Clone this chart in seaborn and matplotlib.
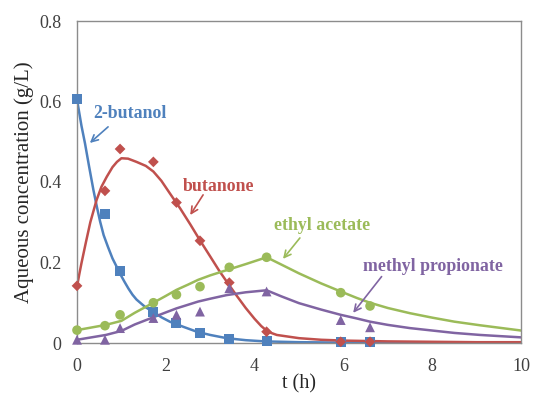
import numpy as np
import pandas as pd
import matplotlib
matplotlib.use("Agg")
import matplotlib.pyplot as plt
import seaborn as sns

# measured points
t_obs = [0, 0.63, 0.97, 1.72, 2.24, 2.77, 3.43, 4.27, 5.94, 6.6]
butanol_obs = [0.607, 0.32, 0.18, 0.078, 0.05, 0.025, 0.011, 0.006, 0.002, 0.002]
butanone_obs = [0.142, 0.378, 0.482, 0.45, 0.349, 0.254, 0.15, 0.028, 0.003, 0.003]
ethyl_obs = [0.032, 0.043, 0.07, 0.1, 0.12, 0.14, 0.188, 0.213, 0.125, 0.092]
methyl_obs = [0.008, 0.008, 0.037, 0.062, 0.07, 0.078, 0.136, 0.128, 0.057, 0.039]

# model curves
t_butanol = [0, 0.1, 0.18, 0.27, 0.37, 0.45, 0.52, 0.6, 0.7, 0.8, 0.9, 0.97, 1.07,
             1.16, 1.25, 1.34, 1.53, 1.72, 1.9, 2.09, 2.4, 2.7, 3.0, 3.37, 3.8,
             4.23, 5, 6, 7, 8, 10]
butanol_fit = [0.605, 0.54, 0.496, 0.44, 0.38, 0.337, 0.302, 0.268, 0.238, 0.21,
               0.188, 0.172, 0.152, 0.135, 0.12, 0.108, 0.09, 0.077, 0.064, 0.053,
               0.04, 0.028, 0.02, 0.012, 0.007, 0.004, 0.002, 0.001, 0.0, 0.0, 0.0]
t_butanone = [0, 0.05, 0.1, 0.2, 0.3, 0.44, 0.55, 0.67, 0.8, 0.9, 1.0, 1.15, 1.34,
              1.55, 1.72, 1.9, 2.09, 2.32, 2.55, 2.77, 3.0, 3.2, 3.4, 3.6, 3.8, 4.0,
              4.15, 4.3, 4.5, 5, 5.5, 6, 7, 8, 9, 10]
butanone_fit = [0.14, 0.17, 0.198, 0.25, 0.3, 0.355, 0.388, 0.413, 0.437, 0.45, 0.459,
                0.458, 0.45, 0.44, 0.426, 0.403, 0.372, 0.335, 0.295, 0.255, 0.215,
                0.18, 0.148, 0.117, 0.087, 0.06, 0.042, 0.028, 0.02, 0.012, 0.008,
                0.006, 0.004, 0.003, 0.002, 0.002]
t_esters = [0, 0.65, 1.0, 1.3, 1.72, 2.0, 2.24, 2.5, 2.73, 3.0, 3.37, 3.8, 4.27, 4.6,
            5.0, 5.5, 5.94, 6.3, 6.6, 7.0, 7.5, 8.0, 8.5, 9.08, 10]
ethyl_fit = [0.032, 0.045, 0.055, 0.075, 0.1, 0.117, 0.132, 0.145, 0.157, 0.168, 0.181,
             0.196, 0.213, 0.195, 0.173, 0.148, 0.128, 0.112, 0.1, 0.087, 0.074,
             0.063, 0.053, 0.044, 0.031]
methyl_fit = [0.008, 0.02, 0.03, 0.046, 0.064, 0.076, 0.086, 0.095, 0.103, 0.11, 0.119,
              0.126, 0.131, 0.116, 0.099, 0.083, 0.07, 0.061, 0.053, 0.045, 0.037,
              0.031, 0.025, 0.02, 0.014]

x_ticks = [0, 2, 4, 6, 8, 10]
y_ticks = [0, 0.2, 0.4, 0.6, 0.8]
y_tick_labels = ["0", "0.2", "0.4", "0.6", "0.8"]

BLUE = "#4F81BD"
RED = "#C0504D"
GREEN = "#9BBB59"
PURPLE = "#8064A2"

sns.set_style("white", {"axes.edgecolor": "#8c8c8c"})
plt.rcParams["font.family"] = ["Liberation Serif", "DejaVu Serif"]

fig = plt.figure(figsize=(5.36, 3.93), dpi=100)
ax = fig.add_axes([77 / 536, 1 - 343 / 393, 444 / 536, 322 / 393])

series = [
    (t_butanol, butanol_fit, butanol_obs, BLUE, "s", 52),
    (t_butanone, butanone_fit, butanone_obs, RED, "D", 30),
    (t_esters, ethyl_fit, ethyl_obs, GREEN, "o", 48),
    (t_esters, methyl_fit, methyl_obs, PURPLE, "^", 50),
]
for t_fit, fit, obs, col, mk, sz in series:
    sns.lineplot(x=t_fit, y=fit, color=col, lw=1.8, ax=ax, sort=False)
for t_fit, fit, obs, col, mk, sz in series:
    sns.scatterplot(x=t_obs, y=obs, marker=mk, s=sz, color=col, edgecolor="none",
                    ax=ax, clip_on=False, zorder=4)

ax.set_xlim(0, 10)
ax.set_ylim(0, 0.8)
ax.set_xticks(x_ticks)
ax.set_yticks(y_ticks)
ax.set_yticklabels(y_tick_labels)
ax.tick_params(direction="out", length=5, width=1, color="#8c8c8c",
               labelsize=13, labelcolor="#404040", pad=6)
for sp in ax.spines.values():
    sp.set_visible(True)
    sp.set_linewidth(1)
ax.set_xlabel("t (h)", fontsize=14.5, color="#262626", labelpad=-1)
ax.set_ylabel("Aqueous concentration (g/L)", fontsize=15, color="#262626", labelpad=4)

labels = [
    ("2-butanol", (1.19, 0.571), (0.70, 0.537), (0.29, 0.497), BLUE),
    ("butanone", (3.18, 0.39), (2.84, 0.368), (2.55, 0.318), RED),
    ("ethyl acetate", (5.52, 0.291), (5.02, 0.261), (4.64, 0.209), GREEN),
    ("methyl propionate", (8.02, 0.191), (6.86, 0.165), (6.22, 0.075), PURPLE),
]
for txt, pos, start, tip, col in labels:
    ax.text(pos[0], pos[1], txt, color=col, fontsize=12.8, fontweight="bold",
            ha="center", va="center")
    ax.annotate("", xy=tip, xytext=start,
                arrowprops=dict(arrowstyle="->", color=col, lw=1.2,
                                shrinkA=0, shrinkB=0, mutation_scale=12))

fig.savefig("out.png", dpi=100)
